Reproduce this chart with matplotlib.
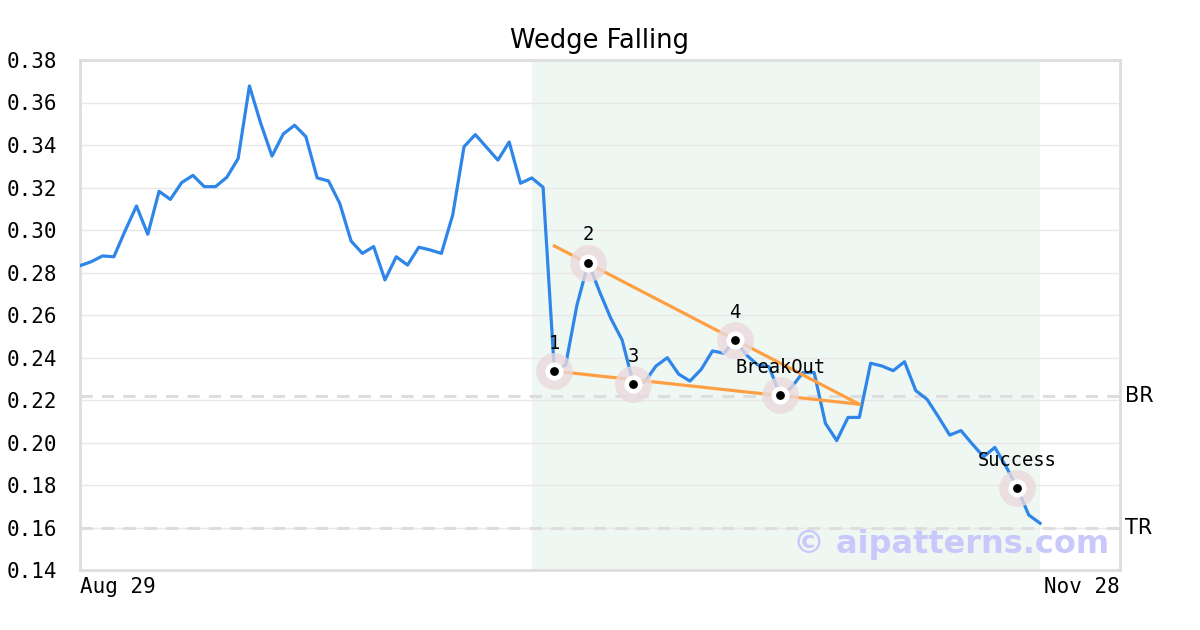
import matplotlib
matplotlib.use("Agg")
import matplotlib.pyplot as plt

# price series, one value per day (Aug 29 onwards)
prices = [
    0.2832, 0.2851, 0.2878, 0.2874, 0.2997, 0.3113, 0.2980, 0.3182, 0.3144, 0.3223,
    0.3257, 0.3204, 0.3204, 0.3248, 0.3336, 0.3678, 0.3502, 0.3348, 0.3452, 0.3493,
    0.3439, 0.3245, 0.3231, 0.3125, 0.2948, 0.2890, 0.2922, 0.2765, 0.2874, 0.2835,
    0.2919, 0.2906, 0.2890, 0.3071, 0.3392, 0.3449, 0.3389, 0.3329, 0.3414, 0.3220,
    0.3245, 0.3201, 0.2336, 0.2365, 0.2647, 0.2846, 0.2710, 0.2584, 0.2482, 0.2275,
    0.2286, 0.2360, 0.2399, 0.2322, 0.2289, 0.2344, 0.2431, 0.2420, 0.2482, 0.2412,
    0.2365, 0.2357, 0.2222, 0.2260, 0.2329, 0.2329, 0.2090, 0.2009, 0.2118, 0.2118,
    0.2373, 0.2360, 0.2338, 0.2380, 0.2244, 0.2203, 0.2121, 0.2035, 0.2056, 0.1993,
    0.1933, 0.1977, 0.1886, 0.1784, 0.1659, 0.1620,
]

# pattern points: (index, label)
point_idx = [42, 45, 49, 58, 62, 83]
point_labels = ["1", "2", "3", "4", "BreakOut", "Success"]

# wedge trend lines (start index, start value, end index, end value)
upper_line = [(42, 0.2925), (69, 0.2180)]
lower_line = [(42, 0.2336), (69, 0.2180)]

shade_range = (40, 85)
br_level = 0.222
tr_level = 0.160
x_labels = ["Aug 29", "Nov 28"]
y_ticks = [0.14, 0.16, 0.18, 0.20, 0.22, 0.24, 0.26, 0.28, 0.30, 0.32, 0.34, 0.36, 0.38]

mono = "DejaVu Sans Mono"

fig = plt.figure(figsize=(12, 6.3), dpi=100)
ax = fig.add_axes([80 / 1200, 60 / 630, 1040 / 1200, 510 / 630])

x_max = 92.08
ax.set_xlim(0, x_max)
ax.set_ylim(0.14, 0.38)

# background elements
ax.axvspan(shade_range[0], shade_range[1], color="#eff7f3", zorder=0, lw=0)
for v in y_ticks:
    ax.axhline(v, color="#e8e8e8", lw=1, zorder=1)
for lvl in (br_level, tr_level):
    ax.axhline(lvl, color="#dddddd", lw=2.2, ls=(0, (4, 3)), zorder=1)

xs = list(range(len(prices)))
ax.plot(xs, prices, color="#2e86e8", lw=2.3, zorder=3)

for line in (upper_line, lower_line):
    ax.plot([p[0] for p in line], [p[1] for p in line], color="#ff9f43", lw=2.3, zorder=4)

# pattern markers
px = point_idx
py = [prices[i] for i in point_idx]
ax.scatter(px, py, s=700, color="#ead9dd", alpha=0.8, lw=0, zorder=5)
ax.scatter(px, py, s=170, color="white", lw=0, zorder=6)
ax.scatter(px, py, s=40, color="black", lw=0, zorder=7)
for i, lab in zip(point_idx, point_labels):
    ax.annotate(lab, (i, prices[i]), xytext=(0, 20), textcoords="offset points",
                ha="center", va="center", fontsize=13.5, family=mono, zorder=8)

# level labels on the right
ax.text(1.005, br_level, "BR", transform=ax.get_yaxis_transform(), fontsize=15,
        va="center", ha="left")
ax.text(1.005, tr_level, "TR", transform=ax.get_yaxis_transform(), fontsize=15,
        va="center", ha="left")

ax.text(0.99, 0.05, "© aipatterns.com", transform=ax.transAxes, ha="right", va="center",
        fontsize=23, fontweight="bold", color="#c8c8fa", zorder=9)

ax.set_title("Wedge Falling", fontsize=18.5, pad=9)

ax.set_yticks(y_ticks)
ax.set_yticklabels([f"{v:.2f}" for v in y_ticks], family=mono, fontsize=15)
ax.set_xticks([0, x_max])
xt = ax.set_xticklabels(x_labels, family=mono, fontsize=15)
xt[0].set_ha("left")
xt[1].set_ha("right")
ax.tick_params(axis="both", length=0)
ax.tick_params(axis="y", pad=16.5)
ax.tick_params(axis="x", pad=5)

for s in ax.spines.values():
    s.set_color("#dddddd")
    s.set_linewidth(2)

fig.savefig("out.png", dpi=100, facecolor="white")
